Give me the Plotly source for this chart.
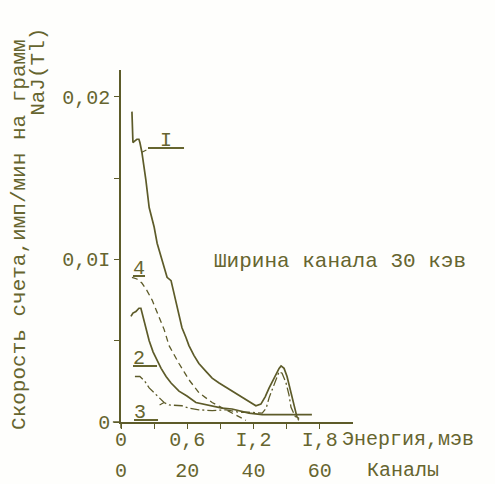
import plotly.graph_objects as go

# Spectra of count rate vs channel number (channel width 30 keV)
KEV_PER_CHANNEL = 30

chan_ticks = [0, 10, 20, 30, 40, 50, 60]
chan_labels = ["0", "", "20", "", "40", "", "60"]
energy_ticks = [0, 0.6, 1.2, 1.8]
energy_labels = ["0", "0,6", "I,2", "I,8"]
rate_ticks = [0, 0.005, 0.01, 0.015, 0.02]
rate_labels = ["0", "", "0,0I", "", "0,02"]

# curve I
ch_1 = [3.3, 3.6, 3.6, 4.2, 4.8, 5.4, 5.7, 6.3, 6.9, 7.5, 8.5, 10.0, 10.9, 12.4,
        13.9, 15.1, 16.0, 17.5, 18.4, 19.6, 20.5, 22.0, 23.5, 25.7, 27.5, 29.6,
        33.5, 37.7, 40.7, 42.2, 43.5, 44.7, 46.8, 47.7, 48.3, 49.2, 50.1, 50.7,
        52.2, 53.1, 53.7]
rate_1 = [0.0191, 0.0180, 0.0172, 0.0173, 0.0174, 0.0174, 0.0172, 0.0166, 0.0158,
          0.0149, 0.0132, 0.0120, 0.0110, 0.0100, 0.0089, 0.0087, 0.0079, 0.0067,
          0.0058, 0.0052, 0.0047, 0.0041, 0.0036, 0.0031, 0.0027, 0.0024, 0.0019,
          0.00135, 0.0010, 0.0011, 0.00155, 0.0021, 0.0030, 0.0033, 0.00345,
          0.0033, 0.0028, 0.0023, 0.0010, 0.0003, 0.0002]

# curve 2
ch_2 = [3.0, 3.6, 4.5, 5.4, 6.0, 6.6, 7.5, 8.5, 9.7, 10.9, 12.1, 13.6, 15.1, 17.5,
        19.9, 22.6, 25.7, 27.5, 30.5, 33.5, 35.6, 38.6, 42.6, 50.7, 57.6]
rate_2 = [0.0065, 0.0067, 0.0068, 0.0070, 0.0070, 0.0065, 0.0057, 0.0050, 0.0043,
          0.0038, 0.0033, 0.0028, 0.0024, 0.0019, 0.0016, 0.0012, 0.00105, 0.0010,
          0.00085, 0.0008, 0.0007, 0.00055, 0.00045, 0.00045, 0.00045]

# curve 3
ch_3 = [4.2, 5.7, 7.2, 8.5, 10.0, 11.5, 13.0, 14.5, 16.6, 18.4, 20.5, 23.5, 27.5,
        31.7, 35.6, 38.6, 42.6, 43.8, 44.7, 45.9, 46.8, 47.7, 48.6, 49.8, 50.7,
        51.3, 52.2, 52.8, 53.7]
rate_3 = [0.0028, 0.0028, 0.0025, 0.0021, 0.0018, 0.0015, 0.0012, 0.00105, 0.0010,
          0.0010, 0.00085, 0.00075, 0.0007, 0.00075, 0.0006, 0.0006, 0.00055,
          0.00085, 0.0015, 0.0021, 0.0026, 0.0031, 0.0030, 0.0024, 0.00165, 0.0009,
          0.0005, 0.00025, 0.0001]

# curve 4
ch_4 = [3.3, 4.8, 6.3, 7.8, 9.4, 11.5, 13.0, 14.5, 16.0, 17.5, 19.0, 20.5, 23.5,
        27.5, 31.7, 35.6, 37.7]
rate_4 = [0.0089, 0.0088, 0.00855, 0.0081, 0.0075, 0.0064, 0.0057, 0.0047, 0.0041,
          0.0036, 0.0031, 0.0026, 0.0018, 0.0012, 0.00075, 0.0003, 0.0001]

INK = "#5d5b29"
TEXT = "#66652f"
FONT = "Liberation Mono"
CH_MAX = 70

fig = go.Figure()
styles = [
    (ch_1, rate_1, "solid", 1.7),
    (ch_2, rate_2, "solid", 1.7),
    (ch_3, rate_3, "9px,3px,2px,3px", 1.3),
    (ch_4, rate_4, "6px,4px", 1.3),
]
for xs, ys, dash, w in styles:
    fig.add_trace(go.Scatter(x=xs, y=ys, mode="lines",
                             line=dict(color=INK, width=w, dash=dash),
                             hoverinfo="skip"))
# energy scale shares the channel axis
fig.add_trace(go.Scatter(x=[], y=[], xaxis="x2", showlegend=False))

ann = [
    dict(text="Ширина канала 30 кэв", xref="paper", yref="paper", x=0.392, y=0.455,
         xanchor="left", yanchor="middle", showarrow=False, font=dict(size=21)),
    dict(text="Энергия,мэв", xref="paper", yref="paper", x=0.944, y=-0.051,
         xanchor="left", yanchor="middle", showarrow=False),
    dict(text="Каналы", xref="paper", yref="paper", x=1.052, y=-0.139,
         xanchor="left", yanchor="middle", showarrow=False),
    dict(text="Скорость счета,имп/мин на грамм", xref="paper", yref="paper",
         x=-0.44, y=0.534, textangle=-90, xanchor="center", yanchor="middle",
         showarrow=False, font=dict(size=21)),
    dict(text="NaJ(Tl)", xref="paper", yref="paper", x=-0.353, y=0.995,
         textangle=-90, xanchor="center", yanchor="middle", showarrow=False,
         font=dict(size=21)),
    # curve labels
    dict(text="<u>\u00a0I\u00a0</u>", x=ch_1[7], y=rate_1[7], ax=24, ay=-12,
         showarrow=True, arrowhead=0, arrowwidth=1.2, arrowcolor=INK, standoff=0),
    dict(text="<u>2\u00a0</u>", x=ch_2[9], y=rate_2[9], ax=-12, ay=-2,
         showarrow=True, arrowhead=0, arrowwidth=1.2, arrowcolor=INK, standoff=0),
    dict(text="<u>3\u00a0</u>", x=ch_3[6], y=rate_3[6], ax=-18, ay=10,
         showarrow=True, arrowhead=0, arrowwidth=1.2, arrowcolor=INK, standoff=0),
    dict(text="<u>4</u>", x=ch_4[0], y=rate_4[0], xshift=7, yshift=9,
         showarrow=False),
]

fig.update_layout(
    width=495, height=484,
    margin=dict(l=121, r=142, t=70, b=62),
    paper_bgcolor="#fefefc", plot_bgcolor="#fefefc",
    showlegend=False,
    font=dict(family=FONT, size=20, color=TEXT),
    xaxis=dict(range=[0, CH_MAX], tickvals=chan_ticks, ticktext=chan_labels,
               ticks="outside", ticklen=5, tickwidth=1.3, tickcolor=INK,
               showline=True, linecolor=INK, linewidth=1.5, automargin=False,
               showgrid=False, zeroline=False, ticklabelstandoff=24),
    xaxis2=dict(overlaying="x", anchor="y", side="bottom", automargin=False,
                range=[0, CH_MAX * KEV_PER_CHANNEL / 1000],
                tickvals=energy_ticks, ticktext=energy_labels,
                ticks="", showline=False, showgrid=False, zeroline=False,
                ticklabelstandoff=3),
    yaxis=dict(range=[0, 0.02166], tickvals=rate_ticks, ticktext=rate_labels,
               ticks="outside", ticklen=5, tickwidth=1.3, tickcolor=INK,
               showline=True, linecolor=INK, linewidth=1.5, automargin=False,
               showgrid=False, zeroline=False),
    annotations=ann,
    shapes=[
        dict(type="line", xref="paper", yref="paper", x0=0, x1=0, y0=0, y1=-0.018,
             line=dict(color=INK, width=1.5)),
        dict(type="line", xref="paper", yref="paper", x0=-0.035, x1=0, y0=0, y1=0,
             line=dict(color=INK, width=1.5)),
    ],
)

fig.write_html("out.html")
